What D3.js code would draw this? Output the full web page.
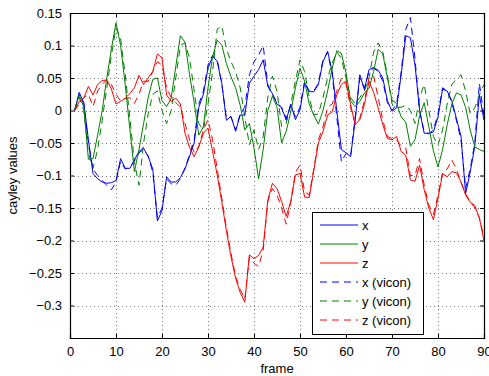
<!DOCTYPE html>
<html>
<head>
    <script src="https://d3js.org/d3.v7.min.js"></script>
    <style>
        body { margin: 0; background: #fff; }
        text { font-family: "Liberation Sans", Arial, sans-serif; }
    </style>
</head>
<body>
    <div id="chart"></div>
    <script>
        const frames = d3.range(1, 91);
        const xTicks = [0, 10, 20, 30, 40, 50, 60, 70, 80, 90];
        const yTicks = [-0.3, -0.25, -0.2, -0.15, -0.1, -0.05, 0, 0.05, 0.1, 0.15];

        const xEst = [0, 0.028, 0.012, -0.045, -0.097, -0.105, -0.11, -0.112, -0.111, -0.108,
            -0.074, -0.089, -0.089, -0.076, -0.063, -0.058, -0.071, -0.09, -0.17, -0.154,
            -0.102, -0.11, -0.11, -0.103, -0.09, -0.07, -0.05, 0.005, 0.025, 0.065,
            0.083, 0.076, 0.042, -0.015, -0.009, -0.032, -0.007, -0.007, 0.042, 0.053,
            0.063, 0.078, 0.037, 0.026, 0.01, 0.004, -0.015, 0.01, -0.014, 0.001,
            0.042, 0.029, 0.029, 0.04, 0.075, 0.091, 0.06, 0, -0.06, -0.065,
            -0.071, -0.015, 0.055, 0.032, 0.063, 0.066, 0.062, 0.05, 0.015, -0.001,
            0.004, 0.055, 0.115, 0.112, 0.07, 0, -0.035, -0.035, -0.033, -0.01,
            0.033, 0.03, 0.015, -0.012, -0.04, -0.128, -0.095, -0.055, 0.024, -0.015];
        const yEst = [0, 0.024, 0.005, -0.075, -0.074, -0.038, 0, 0.05, 0.095, 0.135,
            0.1, 0.04, -0.028, -0.094, -0.06, -0.02, 0.02, 0.048, 0.05, 0.015,
            0.006, 0.019, 0.068, 0.115, 0.105, 0.055, 0.012, -0.038, -0.025, 0.035,
            0.083, 0.108, 0.101, 0.072, 0.052, 0.035, 0.008, -0.03, -0.02, -0.058,
            -0.105, -0.06, 0, 0.022, 0.005, -0.05, -0.032, -0.002, 0.035, 0.065,
            0.045, 0.01, -0.007, -0.021, 0, 0.03, 0.065, 0.092, 0.088, 0.058,
            0.015, 0.006, 0.014, 0.027, 0.034, 0.06, 0.094, 0.087, 0.05, 0.016,
            0.011, -0.01, -0.018, -0.055, -0.045, -0.008, 0.012, -0.025, -0.062, -0.087,
            -0.06, -0.022, 0.01, 0.027, 0.024, 0.005, -0.03, -0.056, -0.06, -0.063];
        const zEst = [0, 0.014, 0.019, 0.037, 0.024, 0.04, 0.046, 0.047, 0.033, 0.01,
            0.014, 0.019, 0.026, 0.035, 0.054, 0.04, 0.05, 0.06, 0.087, 0.081,
            0.024, 0.014, 0.019, 0.01, -0.035, -0.057, -0.071, -0.056, -0.035, -0.027,
            -0.063, -0.099, -0.141, -0.185, -0.225, -0.258, -0.28, -0.295, -0.222, -0.228,
            -0.223, -0.21, -0.138, -0.112, -0.12, -0.14, -0.163, -0.14, -0.099, -0.097,
            -0.133, -0.134, -0.092, -0.05, -0.032, -0.007, -0.002, 0.024, 0.04, 0.045,
            0.009, -0.022, -0.014, 0.009, 0.045, 0.028, 0.004, -0.022, -0.043, -0.045,
            -0.04, -0.063, -0.069, -0.107, -0.109, -0.084, -0.122, -0.15, -0.168, -0.135,
            -0.097, -0.102, -0.094, -0.096, -0.11, -0.13, -0.141, -0.146, -0.166, -0.2];

        const xVicon = [0, 0.025, 0.01, -0.05, -0.09, -0.1, -0.108, -0.115, -0.122, -0.11,
            -0.078, -0.09, -0.087, -0.078, -0.065, -0.06, -0.07, -0.095, -0.165, -0.15,
            -0.105, -0.113, -0.115, -0.105, -0.088, -0.068, -0.045, 0.01, 0.03, 0.07,
            0.085, 0.078, 0.04, -0.012, -0.01, -0.03, -0.005, 0.005, 0.055, 0.075,
            0.085, 0.1, 0.04, 0.025, 0.012, 0.005, -0.012, 0.008, -0.01, 0.005,
            0.045, 0.03, 0.03, 0.042, 0.078, 0.09, 0.055, -0.01, -0.079, -0.066,
            -0.07, -0.01, 0.05, 0.035, 0.06, 0.065, 0.06, 0.045, 0.012, 0,
            0.01, 0.06, 0.125, 0.143, 0.08, 0, -0.033, -0.036, -0.03, -0.005,
            0.035, 0.03, 0.012, -0.015, -0.045, -0.12, -0.09, -0.05, 0.042, -0.01];
        const yVicon = [0, 0.02, 0, -0.065, -0.089, -0.06, -0.015, 0.035, 0.085, 0.127,
            0.11, 0.055, -0.01, -0.08, -0.115, -0.05, -0.005, 0.025, 0.03, 0,
            -0.02, 0, 0.05, 0.1, 0.104, 0.08, 0.03, -0.02, -0.03, 0.01,
            0.06, 0.125, 0.13, 0.095, 0.075, 0.06, 0.035, -0.01, -0.053, -0.03,
            -0.06, -0.04, 0.02, 0.053, 0.03, -0.025, -0.02, 0.01, 0.045, 0.078,
            0.06, 0.02, -0.007, -0.005, 0.02, 0.05, 0.073, 0.09, 0.08, 0.05,
            0.02, 0.01, 0.02, 0.03, 0.05, 0.09, 0.104, 0.09, 0.055, 0.01,
            0.005, 0.005, 0.008, 0, -0.02, 0.02, 0.04, 0, -0.04, -0.053,
            -0.03, 0.01, 0.04, 0.048, 0.055, 0.03, -0.005, 0.004, 0.024, 0.04];
        const zVicon = [0, 0.01, 0.02, 0.025, 0.006, 0.03, 0.04, 0.048, 0.04, 0.025,
            0.015, 0.018, 0.02, 0.011, 0.025, 0.045, 0.045, 0.06, 0.075, 0.07,
            0.035, 0.02, 0.012, 0.005, -0.02, -0.045, -0.065, -0.055, -0.03, -0.014,
            -0.045, -0.09, -0.135, -0.18, -0.22, -0.255, -0.275, -0.29, -0.225, -0.235,
            -0.24, -0.215, -0.14, -0.12, -0.13, -0.15, -0.175, -0.14, -0.095, -0.084,
            -0.125, -0.13, -0.09, -0.045, -0.025, 0.005, 0.01, 0.03, 0.05, 0.04,
            0.005, -0.02, -0.012, 0.015, 0.05, 0.053, 0.02, -0.015, -0.04, -0.043,
            -0.045, -0.055, -0.058, -0.1, -0.1, -0.074, -0.115, -0.145, -0.16, -0.13,
            -0.095, -0.09, -0.076, -0.09, -0.11, -0.128, -0.14, -0.15, -0.165, -0.195];

        const series = [
            {name: "x", values: xEst, color: "#0000ff", dash: null},
            {name: "y", values: yEst, color: "#008000", dash: null},
            {name: "z", values: zEst, color: "#ff0000", dash: null},
            {name: "x (vicon)", values: xVicon, color: "#0000ff", dash: "7,5"},
            {name: "y (vicon)", values: yVicon, color: "#008000", dash: "7,5"},
            {name: "z (vicon)", values: zVicon, color: "#ff0000", dash: "7,5"}
        ];

        const W = 489, H = 376;
        const pLeft = 70, pRight = 484, pTop = 13, pBottom = 338;

        const svg = d3.select("#chart").append("svg")
            .attr("width", W)
            .attr("height", H);

        const x = d3.scaleLinear().domain([0, 90]).range([pLeft, pRight]);
        const y = d3.scaleLinear().domain([-0.35, 0.15]).range([pBottom, pTop]);

        // dotted grid
        const grid = svg.append("g").attr("stroke", "#777").attr("stroke-width", 1)
            .attr("stroke-dasharray", "1,3").attr("shape-rendering", "crispEdges");
        grid.selectAll(".gx").data(xTicks.slice(1, -1)).enter().append("line")
            .attr("x1", d => Math.round(x(d)) + 0.5).attr("x2", d => Math.round(x(d)) + 0.5)
            .attr("y1", pTop).attr("y2", pBottom);
        grid.selectAll(".gy").data(yTicks.slice(0, -1)).enter().append("line")
            .attr("y1", d => Math.round(y(d)) + 0.5).attr("y2", d => Math.round(y(d)) + 0.5)
            .attr("x1", pLeft).attr("x2", pRight);

        // lines
        svg.append("clipPath").attr("id", "clip").append("rect")
            .attr("x", pLeft).attr("y", pTop).attr("width", pRight - pLeft).attr("height", pBottom - pTop);
        const line = d3.line().x((d, i) => x(frames[i])).y(d => y(d));
        svg.append("g").attr("clip-path", "url(#clip)")
            .selectAll("path").data(series.slice(3).concat(series.slice(0, 3))).enter().append("path")
            .attr("d", d => line(d.values))
            .attr("fill", "none")
            .attr("stroke", d => d.color)
            .attr("stroke-width", 1)
            .attr("stroke-dasharray", d => d.dash);

        // axes with inward ticks
        const fmt = v => Math.abs(v) < 1e-9 ? "0" : String(+v.toFixed(2)).replace("-", "\u2212");
        const axB = svg.append("g").attr("transform", `translate(0,${pBottom})`)
            .call(d3.axisBottom(x).tickValues(xTicks).tickSize(-4).tickPadding(9).tickFormat(d3.format("d")));
        const axT = svg.append("g").attr("transform", `translate(0,${pTop})`)
            .call(d3.axisTop(x).tickValues(xTicks).tickSize(-4).tickFormat(""));
        const axL = svg.append("g").attr("transform", `translate(${pLeft},0)`)
            .call(d3.axisLeft(y).tickValues(yTicks).tickSize(-4).tickPadding(8).tickFormat(fmt));
        const axR = svg.append("g").attr("transform", `translate(${pRight},0)`)
            .call(d3.axisRight(y).tickValues(yTicks).tickSize(-4).tickFormat(""));
        [axB, axT, axL, axR].forEach(a => {
            a.selectAll(".domain").attr("stroke", "#000").attr("stroke-width", 1.2);
            a.selectAll("line").attr("stroke", "#000");
            a.selectAll("text").attr("fill", "#000").style("font-size", "13px")
                .style("font-family", "'Liberation Sans', Arial, sans-serif");
        });

        // axis labels
        svg.append("text").attr("x", (pLeft + pRight) / 2).attr("y", 373)
            .attr("text-anchor", "middle").style("font-size", "13px").text("frame");
        svg.append("text").attr("transform", `translate(17,${(pTop + pBottom) / 2}) rotate(-90)`)
            .attr("text-anchor", "middle").style("font-size", "13px").text("cayley values");

        // legend
        const lg = svg.append("g");
        lg.append("rect").attr("x", 312.5).attr("y", 212.5).attr("width", 111).attr("height", 122)
            .attr("fill", "#fff").attr("stroke", "#000").attr("stroke-width", 1);
        const item = lg.selectAll(".item").data(series).enter().append("g")
            .attr("transform", (d, i) => `translate(0,${225 + i * 19})`);
        item.append("line").attr("x1", 320).attr("x2", 358).attr("y1", 0).attr("y2", 0)
            .attr("stroke", d => d.color).attr("stroke-width", 1)
            .attr("stroke-dasharray", d => d.dash);
        item.append("text").attr("x", 362).attr("y", 0).attr("dy", "0.35em")
            .style("font-size", "13px").text(d => d.name);
    </script>
</body>
</html>
